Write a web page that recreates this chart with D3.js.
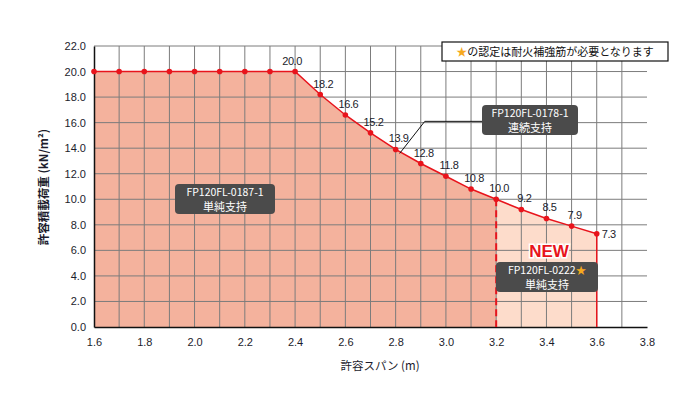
<!DOCTYPE html>
<html>
<head>
<meta charset="utf-8">
<script src="https://cdn.jsdelivr.net/npm/d3@7"></script>
<style>
body { margin: 0; background: #fff; }
svg { display: block; font-family: "Noto Sans CJK JP", "Liberation Sans", sans-serif; }
.tick text { fill: #1c1c2c; font-size: 11px; }
</style>
</head>
<body>
<svg width="700" height="395"></svg>
<script>
// spans (m) and allowable loads (kN/m2)
const spans = [1.6, 1.7, 1.8, 1.9, 2.0, 2.1, 2.2, 2.3, 2.4, 2.5, 2.6, 2.7, 2.8, 2.9, 3.0, 3.1, 3.2, 3.3, 3.4, 3.5, 3.6];
const loads = [20.0, 20.0, 20.0, 20.0, 20.0, 20.0, 20.0, 20.0, 20.0, 18.2, 16.6, 15.2, 13.9, 12.8, 11.8, 10.8, 10.0, 9.2, 8.5, 7.9, 7.3];
const labelled = [2.4, 2.5, 2.6, 2.7, 2.8, 2.9, 3.0, 3.1, 3.2, 3.3, 3.4, 3.5, 3.6];
const xTicks = [1.6, 1.8, 2.0, 2.2, 2.4, 2.6, 2.8, 3.0, 3.2, 3.4, 3.6, 3.8];
const yTicks = [0, 2, 4, 6, 8, 10, 12, 14, 16, 18, 20, 22];
const splitSpan = 3.2;

const data = spans.map((s, i) => ({x: s, y: loads[i]}));

const svg = d3.select('svg');
const x = d3.scaleLinear().domain([1.6, 3.8]).range([94, 647]);
const y = d3.scaleLinear().domain([0, 22]).range([327, 46]);

const red = '#e8141c';

// fills
const area = d3.area().x(d => x(d.x)).y0(y(0)).y1(d => y(d.y));
svg.append('path')
    .datum(data.filter(d => d.x <= splitSpan + 1e-9))
    .attr('fill', '#f4b29d')
    .attr('d', area);
svg.append('path')
    .datum(data.filter(d => d.x >= splitSpan - 1e-9))
    .attr('fill', '#fddccb')
    .attr('d', area);

// grid
const grid = svg.append('g').attr('stroke', '#7c7c7c').attr('stroke-width', 1);
d3.range(17, 38).forEach(function(i) {
    grid.append('line')
        .attr('x1', x(i / 10)).attr('x2', x(i / 10))
        .attr('y1', y(0)).attr('y2', y(22));
});
yTicks.slice(1).forEach(function(t) {
    grid.append('line')
        .attr('x1', x(1.6)).attr('x2', x(3.8))
        .attr('y1', y(t)).attr('y2', y(t));
});

// axes
svg.append('g')
    .attr('transform', `translate(0, ${y(0)})`)
    .call(d3.axisBottom(x).tickValues(xTicks).tickFormat(d3.format('.1f')).tickSize(0).tickPadding(11))
    .call(g => g.select('.domain').attr('stroke', '#111').attr('stroke-width', 1.5));
svg.append('g')
    .attr('transform', `translate(${x(1.6)}, 0)`)
    .call(d3.axisLeft(y).tickValues(yTicks).tickFormat(d3.format('.1f')).tickSize(0).tickPadding(8))
    .call(g => g.select('.domain').attr('stroke', '#111').attr('stroke-width', 1.5));
svg.selectAll('.tick text').attr('font-family', '"Liberation Sans", sans-serif');

// boundary lines
svg.append('line')
    .attr('x1', x(splitSpan)).attr('x2', x(splitSpan))
    .attr('y1', y(loads[spans.indexOf(splitSpan)])).attr('y2', y(0))
    .attr('stroke', red).attr('stroke-width', 2).attr('stroke-dasharray', '7,4');
svg.append('line')
    .attr('x1', x(3.6)).attr('x2', x(3.6))
    .attr('y1', y(loads[loads.length - 1])).attr('y2', y(0))
    .attr('stroke', red).attr('stroke-width', 1.5);

// curve
svg.append('path')
    .datum(data)
    .attr('fill', 'none')
    .attr('stroke', red)
    .attr('stroke-width', 1.5)
    .attr('d', d3.line().x(d => x(d.x)).y(d => y(d.y)));
svg.selectAll('.dot').data(data).enter().append('circle')
    .attr('cx', d => x(d.x)).attr('cy', d => y(d.y)).attr('r', 2.8)
    .attr('fill', red);

// value labels
svg.selectAll('.val').data(data.filter(d => labelled.some(l => Math.abs(l - d.x) < 1e-9)))
    .enter().append('text')
    .attr('x', d => d.x === 3.6 ? x(d.x) + 5 : x(d.x) + (d.x === 2.4 ? -3 : 3))
    .attr('y', d => d.x === 3.6 ? y(d.y) + 4 : y(d.y) - 7)
    .attr('text-anchor', d => d.x === 3.6 ? 'start' : 'middle')
    .attr('font-family', '"Liberation Sans", sans-serif')
    .attr('font-size', 11)
    .attr('letter-spacing', -0.4)
    .attr('fill', '#1c1c2c')
    .text(d => d.y.toFixed(1));

// labels boxes
function tag(cx, cy, w, line1, line2, star) {
    const g = svg.append('g');
    g.append('rect')
        .attr('x', cx - w / 2).attr('y', cy - 15).attr('width', w).attr('height', 30)
        .attr('rx', 4).attr('fill', '#4b4b4b');
    const t = g.append('text')
        .attr('x', cx).attr('y', cy - 3)
        .attr('text-anchor', 'middle').attr('fill', '#fff').attr('font-size', 10.5)
        .text(line1);
    if (star) t.append('tspan').attr('fill', '#f6a91e').text('★');
    g.append('text')
        .attr('x', cx).attr('y', cy + 11.5)
        .attr('text-anchor', 'middle').attr('fill', '#fff').attr('font-size', 11)
        .text(line2);
}
tag(225, 199, 100, 'FP120FL-0187-1', '単純支持');
// leader line
svg.append('polyline')
    .attr('points', `${x(2.8) + 4},${y(13.9) + 4} ${x(2.9) + 4},${y(16.1)} ${x(3.15)},${y(16.1)}`)
    .attr('fill', 'none').attr('stroke', '#111').attr('stroke-width', 1);
tag(530, 120, 96, 'FP120FL-0178-1', '連続支持');
tag(547, 277, 102, 'FP120FL-0222', '単純支持', true);

svg.append('text')
    .attr('x', 549).attr('y', 257)
    .attr('text-anchor', 'middle')
    .attr('font-family', '"Liberation Sans", sans-serif')
    .attr('font-weight', 'bold').attr('font-size', 17)
    .attr('fill', red).attr('stroke', '#fff').attr('stroke-width', 3)
    .attr('paint-order', 'stroke')
    .text('NEW');

// note box
svg.append('rect')
    .attr('x', 442).attr('y', 42).attr('width', 226).attr('height', 19)
    .attr('fill', '#fff').attr('stroke', '#111').attr('stroke-width', 1.2);
const note = svg.append('text')
    .attr('x', 555).attr('y', 56)
    .attr('text-anchor', 'middle').attr('font-size', 11).attr('fill', '#111');
note.append('tspan').attr('fill', '#f6a91e').text('★');
note.append('tspan').text('の認定は耐火補強筋が必要となります');

// axis titles
svg.append('text')
    .attr('x', 380).attr('y', 370)
    .attr('text-anchor', 'middle').attr('font-size', 11.5).attr('fill', '#1c1c2c')
    .text('許容スパン (m)');
svg.append('text')
    .attr('transform', 'translate(48, 187) rotate(-90)')
    .attr('text-anchor', 'middle').attr('font-size', 11.5).attr('font-weight', 'bold').attr('fill', '#1c1c2c')
    .text('許容積載荷重 (kN/m²)');
</script>
</body>
</html>
